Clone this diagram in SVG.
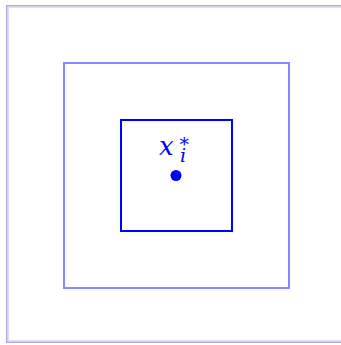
<svg xmlns="http://www.w3.org/2000/svg" width="341" height="345" viewBox="0 0 341 345">
<style>
.frame{fill:none;stroke:#aaaadd;stroke-width:1.5}
.frame2{fill:none;stroke:#dcdcf4;stroke-width:1}
.mid{fill:none;stroke:#8888ff;stroke-width:2}
.inner{fill:none;stroke:#0000ff;stroke-width:2}
.lbl{font-family:"DejaVu Serif",serif;font-style:italic;fill:#0000ff}
</style>
<rect width="341" height="345" fill="#ffffff"/>
<g id="frame">
<rect class="frame" x="6.75" y="5.75" width="340" height="336.5"/>
<rect class="frame2" x="8.5" y="7.5" width="340" height="333"/>
</g>
<g id="outer-square"><rect class="mid" x="64" y="63" width="225" height="225"/></g>
<g id="inner-square"><rect class="inner" x="121" y="120" width="111" height="111"/></g>
<g id="point">
<circle cx="176" cy="175.5" r="5.5" fill="#0000ff"/>
<text class="lbl" x="159" y="155" font-size="26">x</text>
<text class="lbl" x="180" y="161.5" font-size="19">i</text>
<text class="lbl" x="179.5" y="151" font-size="19">*</text>
</g>
</svg>
